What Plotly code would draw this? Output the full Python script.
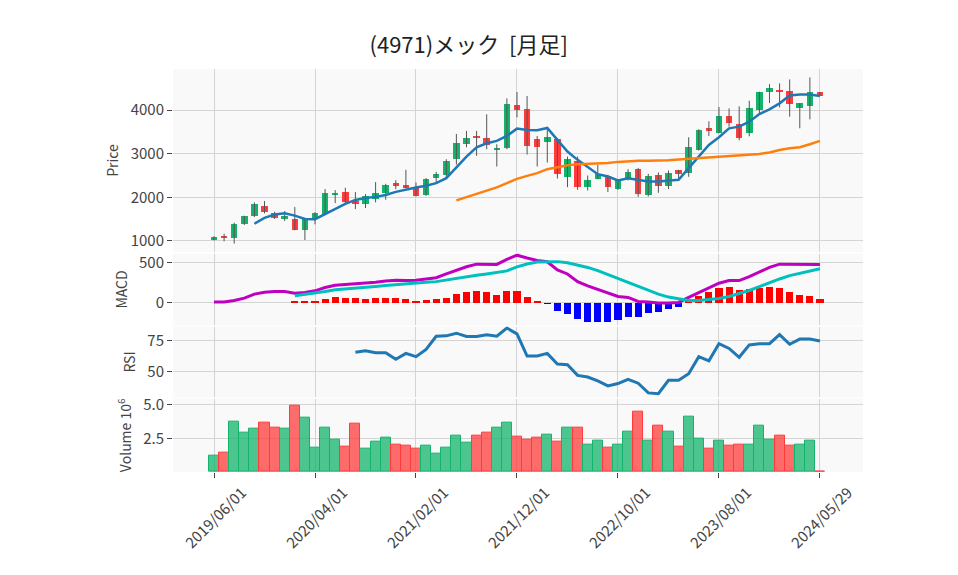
import plotly.graph_objects as go
from plotly.subplots import make_subplots

# ---- data ----
dates = []
for y in range(2019, 2025):
    for m in range(1, 13):
        if (y == 2019 and m < 6) or (y == 2024 and m > 5):
            continue
        dates.append(f"{y}/{m:02d}/01")
dates.append("2024/05/29")

open_ = [1020, 1122, 1061, 1380, 1563, 1807, 1647, 1518, 1510, 1244,
         1510, 1617, 2043, 2119, 1914, 1838, 1960, 2089, 2317, 2279,
         2231, 2058, 2454, 2515, 2888, 3231, 3399, 3353, 3094, 3125,
         4115, 4023, 3338, 3269, 3338, 2477, 2828, 2226, 2416, 2492,
         2180, 2424, 2652, 2058, 2508, 2249, 2630, 2554, 3094, 3589,
         3483, 3863, 3673, 3467, 4000, 4404, 4457, 4427, 4054, 4099, 4412]
close = [1100, 1084, 1396, 1563, 1853, 1655, 1518, 1563, 1244, 1510,
         1640, 2097, 2104, 1883, 1838, 2020, 2104, 2287, 2272, 2203,
         2020, 2424, 2538, 2835, 3239, 3361, 3361, 3201, 3132, 4137,
         4000, 3178, 3155, 3376, 2523, 2881, 2226, 2401, 2523, 2226,
         2386, 2576, 2066, 2492, 2249, 2554, 2531, 3147, 3543, 3528,
         3863, 3696, 3368, 4038, 4404, 4495, 4419, 4130, 4153, 4404, 4328]
high = [1110, 1167, 1419, 1579, 1883, 1914, 1670, 1685, 1777, 1530,
        1660, 2188, 2165, 2218, 2119, 2074, 2348, 2310, 2393, 2630,
        2340, 2439, 2584, 2873, 3452, 3521, 3521, 3902, 3216, 4267,
        4412, 4320, 3406, 3589, 3361, 2934, 2934, 2500, 2744, 2515,
        2416, 2645, 2675, 2538, 2569, 2614, 2630, 3376, 3559, 3741,
        4069, 4038, 4084, 4214, 4419, 4594, 4610, 4701, 4153, 4747, 4412]
low = [1010, 992, 939, 1365, 1548, 1632, 1503, 1457, 1244, 1023,
       1381, 1594, 1868, 1868, 1731, 1754, 1883, 1944, 2188, 2203,
       2020, 2035, 2325, 2416, 2751, 3147, 2949, 3102, 2706, 3102,
       3833, 2980, 2706, 2797, 2431, 2234, 2173, 2157, 2416, 2119,
       2173, 2386, 2012, 2020, 2104, 2188, 2424, 2469, 3071, 3406,
       3467, 3620, 3307, 3399, 3916, 4160, 4061, 3848, 3581, 3787, 4328]

N = None
ma5 = [N, N, N, N, 1395, 1530, 1605, 1635, 1580, 1505,
       1500, 1615, 1725, 1850, 1940, 1985, 2010, 2055, 2125, 2180,
       2226, 2264, 2325, 2439, 2690, 2934, 3147, 3239, 3292, 3406,
       3574, 3543, 3536, 3589, 3315, 3048, 2858, 2690, 2530, 2477,
       2386, 2439, 2401, 2363, 2363, 2386, 2401, 2668, 2934, 3201,
       3376, 3581, 3620, 3734, 3909, 4015, 4153, 4335, 4358, 4358, 4320]
ma25 = [N] * 24 + [1929, 2005, 2081, 2157, 2226, 2325,
                   2424, 2492, 2553, 2645, 2690, 2736, 2759, 2767, 2774, 2789,
                   2812, 2827, 2835, 2835, 2835, 2850, 2865, 2880, 2911, 2926,
                   2934, 2941, 2957, 2980, 2995, 3025, 3086, 3124, 3147, 3216, 3292]

macd = [8, 8, 29, 57, 107, 131, 139, 139, 119, 127,
        148, 189, 217, 225, 229, 242, 254, 270, 279, 275,
        279, 295, 311, 357, 406, 447, 479, 479, 475, 537,
        590, 555, 525, 508, 406, 357, 262, 209, 168, 119,
        78, 66, 16, 8, -4, -4, 4, 66, 127, 180,
        242, 275, 275, 324, 385, 438, 479, 479, 471, 479, 475]
signal = [N] * 8 + [86, 102,
                    123, 139, 160, 168, 180, 189, 201, 213, 225, 238,
                    246, 254, 262, 283, 303, 324, 340, 357, 373, 395,
                    445, 480, 505, 510, 510, 496, 471, 438, 398, 348,
                    299, 250, 201, 152, 107, 70, 45, 29, 29, 37,
                    53, 78, 111, 152, 201, 250, 295, 336, 365, 393, 422]
hist = [N] * 8 + [33, 25,
                  25, 49, 74, 61, 61, 49, 61, 61, 61, 49,
                  25, 37, 49, 61, 115, 135, 148, 135, 98, 148,
                  148, 74, 25, -4, -94, -131, -193, -229, -229, -229,
                  -205, -168, -168, -119, -106, -70, -45, 37, 90, 139,
                  189, 201, 160, 176, 189, 201, 189, 139, 102, 90, 49]

rsi = [N] * 14 + [65.5, 66.8, 65.2, 65.2, 60.0, 64.7,
                  62.1, 67.8, 78.3, 78.6, 80.7, 78.1, 78.1, 79.4, 78.3, 84.8,
                  80.2, 62.6, 62.6, 64.7, 56.2, 55.7, 47.2, 45.9, 42.8, 38.9,
                  40.7, 44.1, 41.0, 33.3, 32.7, 43.3, 43.3, 48.5, 62.1, 58.8,
                  72.4, 68.6, 61.6, 71.4, 72.4, 72.4, 79.6, 71.9, 76.0, 76.0, 74.5]

volume_m = [1.20, 1.42, 3.77, 2.89, 3.19, 3.68, 3.26, 3.19, 4.93, 4.00,
            1.79, 3.26, 2.38, 1.86, 3.60, 1.72, 2.23, 2.52, 2.06, 1.99,
            1.72, 1.94, 1.35, 1.79, 2.67, 2.16, 2.67, 2.94, 3.26, 3.63,
            2.60, 2.38, 2.52, 2.75, 2.23, 3.26, 3.26, 2.01, 2.30, 1.79,
            2.01, 2.97, 4.44, 2.30, 3.41, 2.97, 1.86, 4.07, 2.45, 1.72,
            2.30, 1.94, 2.01, 2.01, 3.41, 2.38, 2.67, 1.94, 2.01, 2.30, 0.02]

tick_idx = [0, 10, 20, 30, 40, 50, 60]

# ---- styles ----
UP = "#12b36b"
DOWN = "#ff3b3b"
UP_A = "rgba(18,179,107,0.75)"
DOWN_A = "rgba(255,59,59,0.75)"
FONT = "Noto Sans CJK JP, sans-serif"

is_up = [c >= o for o, c in zip(open_, close)]

fig = make_subplots(rows=4, cols=1, shared_xaxes=True, vertical_spacing=0.005)

# wicks
wx, wy = [], []
for d, h, l in zip(dates, high, low):
    wx += [d, d, None]
    wy += [l, h, None]
fig.add_trace(go.Scatter(x=wx, y=wy, mode="lines", line=dict(color="#555555", width=1),
                         hoverinfo="skip", showlegend=False), row=1, col=1)
# bodies
fig.add_trace(go.Bar(x=dates, y=[abs(c - o) for o, c in zip(open_, close)],
                     base=[min(o, c) for o, c in zip(open_, close)], width=0.65,
                     marker=dict(color=[UP if u else DOWN for u in is_up], line=dict(width=0)),
                     showlegend=False), row=1, col=1)
fig.add_trace(go.Scatter(x=dates, y=ma5, mode="lines", line=dict(color="#1f77b4", width=2.5),
                         showlegend=False), row=1, col=1)
fig.add_trace(go.Scatter(x=dates, y=ma25, mode="lines", line=dict(color="#ff7f0e", width=2.5),
                         showlegend=False), row=1, col=1)

# MACD
fig.add_trace(go.Bar(x=dates, y=hist, width=0.7,
                     marker=dict(color=["#ff0000" if (h is not None and h >= 0) else "#0000ff" for h in hist],
                                 line=dict(width=0)),
                     showlegend=False), row=2, col=1)
fig.add_trace(go.Scatter(x=dates, y=macd, mode="lines", line=dict(color="#c000c0", width=3),
                         showlegend=False), row=2, col=1)
fig.add_trace(go.Scatter(x=dates, y=signal, mode="lines", line=dict(color="#00bfbf", width=3),
                         showlegend=False), row=2, col=1)

# RSI
fig.add_trace(go.Scatter(x=dates, y=rsi, mode="lines", line=dict(color="#1f77b4", width=3),
                         showlegend=False), row=3, col=1)

# Volume
fig.add_trace(go.Bar(x=dates, y=volume_m, width=1.0,
                     marker=dict(color=[UP_A if u else DOWN_A for u in is_up],
                                 line=dict(color=[UP if u else DOWN for u in is_up], width=1)),
                     showlegend=False), row=4, col=1)

fig.update_layout(
    width=950, height=567,
    margin=dict(l=165, r=95, t=61, b=103, autoexpand=False),
    paper_bgcolor="white", plot_bgcolor="#f9f9f9",
    font=dict(family=FONT, size=14, color="#444"),
    title=dict(text="(4971)メック  [月足]", x=0.485, xanchor="center", y=0.935, yanchor="middle",
               font=dict(family=FONT, size=22, color="#222")),
    barmode="overlay", bargap=0, showlegend=False,
)

domains = [[0.546, 1.0], [0.364, 0.542], [0.185, 0.361], [0.0, 0.182]]
ranges = [[748, 4940], [-280, 610], [29.7, 86], [0, 5.44]]
titles = ["Price", "MACD", "RSI", "Volume 10<sup>6</sup>"]
tickvals_y = [[1000, 2000, 3000, 4000], [0, 500], [50, 75], [2.5, 5.0]]
ticktext_y = [["1000", "2000", "3000", "4000"], ["0", "500"], ["50", "75"], ["2.5", "5.0"]]
for r in range(4):
    fig.update_yaxes(row=r + 1, col=1, domain=domains[r], range=ranges[r],
                     title=dict(text=titles[r], font=dict(size=14), standoff=8),
                     tickvals=tickvals_y[r], ticktext=ticktext_y[r],
                     tickfont=dict(size=15),
                     ticks="outside", ticklen=5, tickcolor="#444",
                     showgrid=True, gridcolor="#d4d4d4", gridwidth=1,
                     zeroline=False, showline=False, automargin=False)
    fig.update_xaxes(row=r + 1, col=1, type="category", range=[-4.06, 64.26],
                     tickvals=[dates[i] for i in tick_idx], ticktext=[dates[i] for i in tick_idx],
                     showgrid=True, gridcolor="#d4d4d4", gridwidth=1, zeroline=False,
                     showline=False, automargin=False)
fig.update_xaxes(row=4, col=1, ticks="outside", ticklen=5, tickcolor="#444", tickangle=-45,
                 ticklabelshift=28, tickfont=dict(size=15))

fig.write_html("out.html")
